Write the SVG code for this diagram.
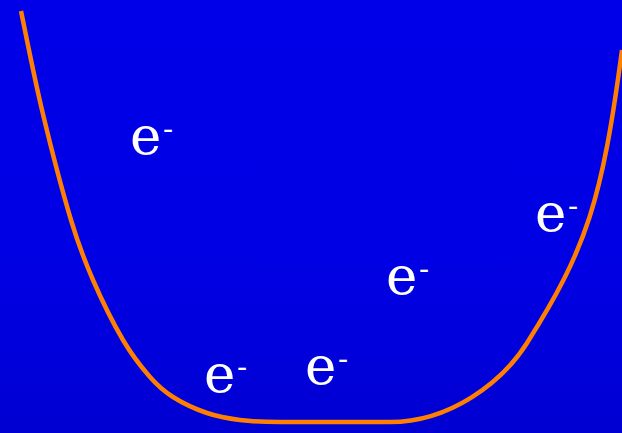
<svg xmlns="http://www.w3.org/2000/svg" width="622" height="433" viewBox="0 0 622 433">
  <defs>
    <linearGradient id="bg" x1="0" y1="0" x2="0" y2="1">
      <stop offset="0" stop-color="#0000E8"/>
      <stop offset="0.6" stop-color="#0000E4"/>
      <stop offset="1" stop-color="#0000D2"/>
    </linearGradient>
  </defs>
  <style>
    .lbl { font-family: DejaVu Serif, serif; font-size: 53px; fill: #FFFFFF; }
    .sup { font-size: 30px; }
    .well { fill: none; stroke: #FF8000; stroke-width: 4.5; stroke-linecap: butt; stroke-linejoin: round; }
  </style>
  <rect x="0" y="0" width="622" height="433" fill="url(#bg)"/>
  <g id="well">
    <path class="well" d="M21,11 C24.5,27.5 33.7,75.2 42,110 C50.3,144.8 62.5,191.7 71,220 C79.5,248.3 84.3,260 93,280 C101.7,300 113.5,323.8 123,340 C132.5,356.2 141.7,367.5 150,377 C158.3,386.5 163.5,391 173,397 C182.5,403 195.8,409.2 207,413 C218.2,416.8 227.8,418.5 240,420 C252.2,421.5 266,422 280,422 L390,422 C450,422 502,382.5 527,343 C587,248.2 602,200 622,50"/>
  </g>
  <g id="electrons">
    <g id="e1"><text class="lbl" x="130" y="154">e<tspan class="sup" dx="1.5" dy="-15">-</tspan></text></g>
    <g id="e2"><text class="lbl" x="535" y="231">e<tspan class="sup" dx="1.5" dy="-15">-</tspan></text></g>
    <g id="e3"><text class="lbl" x="386" y="294">e<tspan class="sup" dx="1.5" dy="-15">-</tspan></text></g>
    <g id="e4"><text class="lbl" x="204" y="392">e<tspan class="sup" dx="1.5" dy="-15">-</tspan></text></g>
    <g id="e5"><text class="lbl" x="305" y="384">e<tspan class="sup" dx="1.5" dy="-15">-</tspan></text></g>
  </g>
</svg>
